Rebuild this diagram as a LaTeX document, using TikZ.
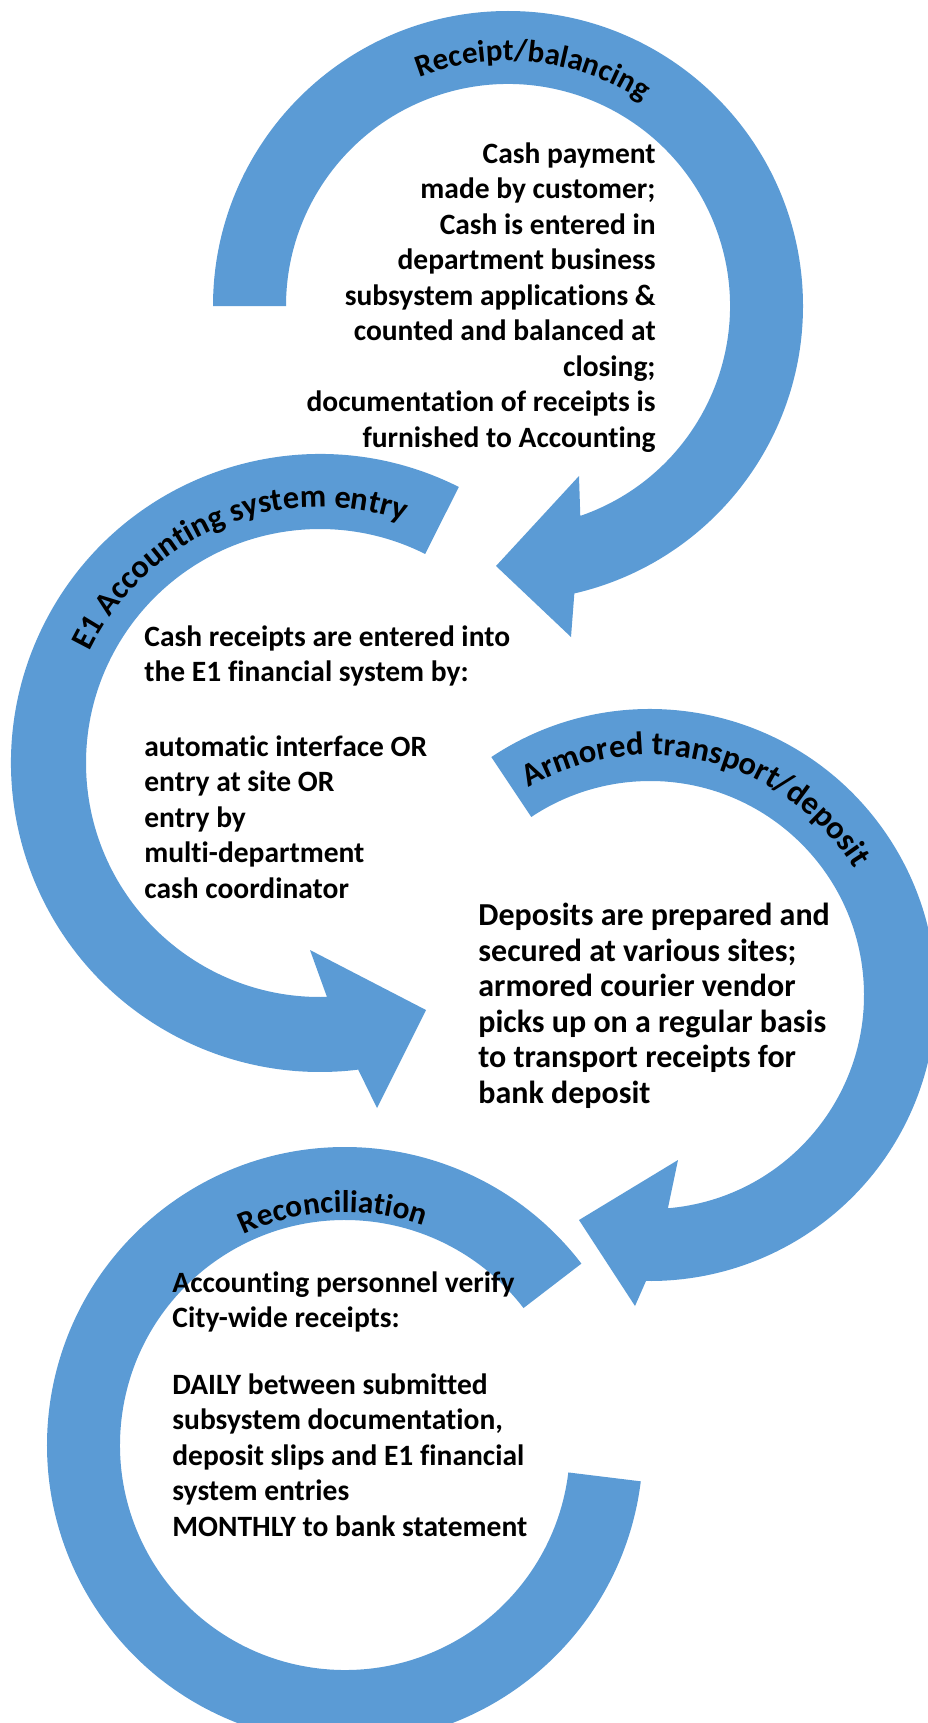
\documentclass[tikz,border=0pt]{standalone}
\usepackage{fontspec}
\setmainfont{Carlito}[Ligatures=NoCommon]
\usepackage{tikz}
\usetikzlibrary{calc, decorations.text}
\definecolor{arrowblue}{RGB}{91, 155, 213}
\tikzset{
  band/.style={fill=arrowblue},
  steptext/.style={font=\bfseries\fontsize{14.75}{17.75}\selectfont,
              inner sep=0pt, text=black},
  bigsteptext/.style={steptext, font=\bfseries\fontsize{16}{17.75}\selectfont},
  arclabel/.style 2 args={decorate, decoration={text along path, text align=center,
              text={|\bfseries\fontsize{#1}{18}\selectfont|#2}}},
}

\begin{document}
\begin{tikzpicture}[x=0.5pt, y=0.5pt]
  \useasboundingbox (0,0) rectangle (927,-1723);
  % Centres of the four circular arrows
  \coordinate (c1) at (508,-306);
  \coordinate (c2) at (320,-763);
  \coordinate (c3) at (650,-995);
  \coordinate (c4) at (345,-1445);
  % Receipt/balancing
  \fill[band] ($(c1)+(180:295)$) arc[start angle=180, end angle=-77, radius=295]
    -- (571,-637) -- (496,-566) -- (579,-476)
    -- ($(c1)+(-71:222)$) arc[start angle=-71, end angle=180, radius=222] -- cycle;
  % E1 Accounting system entry
  \fill[band] ($(c2)+(63.3:309)$) arc[start angle=63.3, end angle=277.1, radius=309]
    -- (377,-1108) -- (426,-1010) -- (310,-950)
    -- ($(c2)+(271.7:234)$) arc[start angle=271.7, end angle=63.3, radius=234] -- cycle;
  % Armored transport/deposit
  \fill[band] ($(c3)+(123.7:286)$) arc[start angle=123.7, end angle=-90.8, radius=286]
    -- (635,-1306) -- (579,-1220) -- (678,-1160)
    -- ($(c3)+(-85.2:214)$) arc[start angle=-85.2, end angle=123.7, radius=214] -- cycle;
  % Reconciliation
  \fill[band] ($(c4)+(37.5:298)$) arc[start angle=37.5, end angle=353, radius=298]
    -- ($(c4)+(353:225)$) arc[start angle=353, end angle=37.5, radius=225] -- cycle;
  % Labels on the arcs
  \path[arclabel={15.5}{Receipt/balancing}] ($(c1)+(125:245)$) arc[start angle=125, end angle=43, radius=245];
  \path[arclabel={16.2}{E1 Accounting system entry}] ($(c2)+(172:256)$) arc[start angle=172, end angle=53, radius=256];
  \path[arclabel={16.3}{Armored transport/deposit}] ($(c3)+(142:240)$) arc[start angle=142, end angle=10, radius=240];
  \path[arclabel={15.7}{Reconciliation}] ($(c4)+(130:233)$) arc[start angle=130, end angle=56, radius=233];
  % Step texts
  \node[steptext, align=right, anchor=north east] (receipttext) at (656,-142)
    {Cash payment\\ made by customer;\\ Cash is entered in\\ department business\\
     subsystem applications \&\\ counted and balanced at\\ closing;\\
     documentation of receipts is\\ furnished to Accounting};
  \node[steptext, align=left, anchor=north west] (entrytext) at (144,-625)
    {Cash receipts are entered into\\ the E1 financial system by:\\[19.5pt]
     automatic interface OR\\ entry at site OR\\ entry by\\ multi-department\\
     cash coordinator};
  \node[bigsteptext, align=left, anchor=north west] (deposittext) at (478,-903)
    {Deposits are prepared and\\ secured at various sites;\\ armored courier vendor\\
     picks up on a regular basis\\ to transport receipts for\\ bank deposit};
  \node[steptext, align=left, anchor=north west] (reconciletext) at (172,-1271)
    {Accounting personnel verify\\ City-wide receipts:\\[15.5pt]
     DAILY between submitted\\ subsystem documentation,\\ deposit slips and E1 financial\\
     system entries\\ MONTHLY to bank statement};
\end{tikzpicture}
\end{document}
